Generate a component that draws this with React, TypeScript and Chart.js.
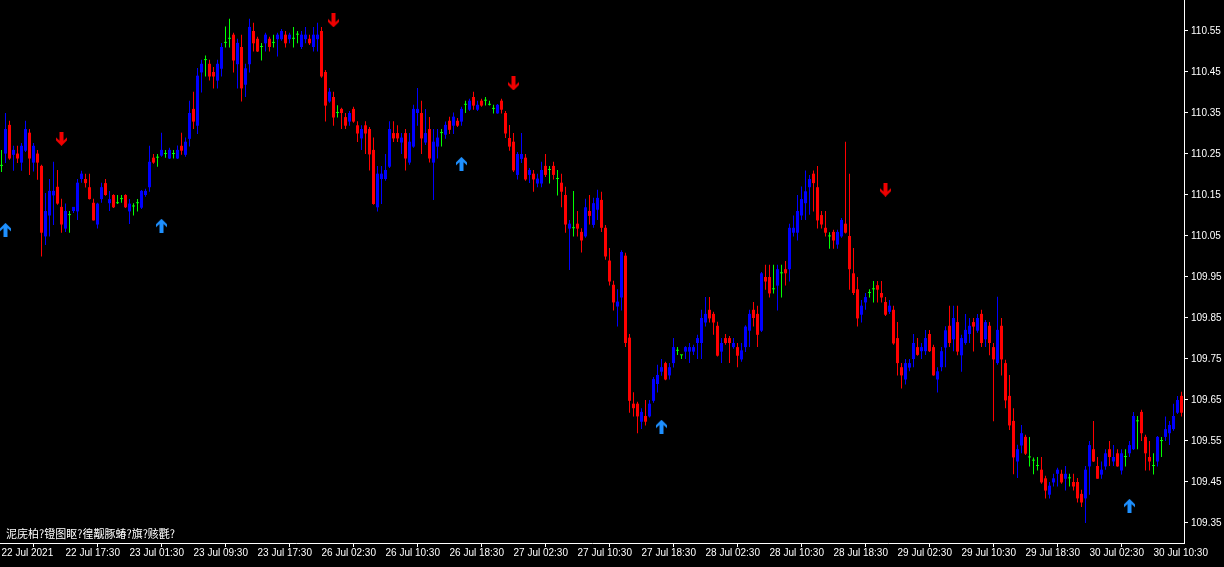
import React, { useEffect, useRef } from "react";
import { Chart, registerables } from "chart.js";

Chart.register(...registerables);

// ---- Candle data (USDJPY M30, 22 Jul 2021 - 30 Jul 2021), one entry per bar ----
const openP = [
  110.221,110.251,110.321,110.248,110.251,110.229,110.258,110.302,110.229,110.251,
  110.221,110.049,110.100,110.149,110.170,110.121,110.068,110.101,110.111,110.110,
  110.189,110.189,110.169,110.131,110.078,110.140,110.179,110.130,110.150,110.130,
  110.140,110.150,110.110,110.122,110.130,110.119,110.150,110.169,110.241,110.241,
  110.246,110.250,110.239,110.250,110.239,110.270,110.248,110.287,110.360,110.319,
  110.449,110.479,110.470,110.450,110.429,110.458,110.521,110.531,110.541,110.469,
  110.511,110.419,110.469,110.550,110.531,110.511,110.520,110.531,110.521,110.530,
  110.530,110.541,110.530,110.531,110.541,110.511,110.530,110.531,110.511,110.530,
  110.550,110.450,110.378,110.389,110.350,110.360,110.340,110.329,110.360,110.320,
  110.288,110.320,110.311,110.260,110.120,110.189,110.189,110.219,110.301,110.301,
  110.278,110.301,110.229,110.268,110.350,110.350,110.278,110.311,110.229,110.268,
  110.301,110.297,110.331,110.319,110.331,110.329,110.370,110.358,110.389,110.358,
  110.380,110.380,110.370,110.360,110.349,110.380,110.350,110.289,110.280,110.199,
  110.238,110.241,110.199,110.202,110.178,110.178,110.221,110.211,110.221,110.189,
  110.180,110.150,110.068,110.069,110.080,110.060,110.049,110.111,110.077,110.114,
  110.138,110.070,109.990,109.931,109.878,109.900,110.002,109.802,109.641,109.641,
  109.597,109.611,109.610,109.648,109.689,109.719,109.740,109.710,109.740,109.770,
  109.759,109.768,109.768,109.768,109.789,109.789,109.839,109.870,109.860,109.831,
  109.768,109.801,109.801,109.779,109.779,109.749,109.779,109.819,109.870,109.860,
  109.819,109.950,109.950,109.920,109.929,109.959,109.969,109.969,110.058,110.058,
  110.100,110.130,110.169,110.202,110.169,110.101,110.070,110.049,110.060,110.029,
  110.049,110.080,110.050,109.959,109.920,109.858,109.888,109.911,109.920,109.930,
  109.911,109.889,109.865,109.870,109.801,109.730,109.700,109.729,109.750,109.779,
  109.769,109.769,109.811,109.779,109.700,109.730,109.778,109.831,109.798,109.840,
  109.759,109.789,109.811,109.840,109.819,109.860,109.798,109.831,109.779,109.740,
  109.831,109.740,109.660,109.599,109.500,109.539,109.560,109.510,109.502,109.489,
  109.480,109.459,109.419,109.449,109.470,109.470,109.458,109.459,109.450,109.450,
  109.421,109.410,109.488,109.530,109.489,109.468,109.488,109.530,109.500,109.520,
  109.478,109.511,109.520,109.530,109.598,109.621,109.560,109.511,109.489,109.500,
  109.550,109.560,109.569,109.579,109.619,109.660,
];

const highP = [
  110.260,110.350,110.331,110.270,110.270,110.277,110.331,110.311,110.277,110.260,
  110.224,110.155,110.189,110.231,110.211,110.141,110.129,110.111,110.121,110.189,
  110.209,110.202,110.202,110.141,110.131,110.180,110.189,110.160,110.152,110.150,
  110.150,110.152,110.140,110.130,110.140,110.162,110.165,110.270,110.250,110.250,
  110.302,110.260,110.265,110.260,110.271,110.302,110.290,110.380,110.402,110.460,
  110.480,110.490,110.480,110.462,110.480,110.521,110.561,110.580,110.546,110.531,
  110.541,110.470,110.580,110.570,110.536,110.521,110.546,110.536,110.541,110.546,
  110.555,110.550,110.546,110.560,110.550,110.550,110.560,110.541,110.560,110.570,
  110.560,110.455,110.411,110.402,110.369,110.363,110.350,110.355,110.365,110.330,
  110.320,110.330,110.316,110.290,110.221,110.221,110.250,110.330,110.330,110.320,
  110.301,110.311,110.301,110.370,110.411,110.380,110.360,110.340,110.311,110.311,
  110.311,110.329,110.341,110.351,110.338,110.365,110.380,110.385,110.402,110.380,
  110.385,110.389,110.380,110.370,110.372,110.385,110.355,110.321,110.301,110.255,
  110.301,110.250,110.216,110.211,110.202,110.231,110.250,110.221,110.231,110.211,
  110.202,110.170,110.089,110.160,110.111,110.069,110.141,110.150,110.143,110.163,
  110.158,110.077,110.021,109.941,109.920,110.015,110.009,109.811,109.669,109.646,
  109.630,109.650,109.650,109.706,109.736,109.750,109.743,109.740,109.801,109.779,
  109.760,109.781,109.789,109.785,109.809,109.870,109.901,109.901,109.865,109.841,
  109.801,109.811,109.806,109.801,109.789,109.789,109.832,109.870,109.889,109.880,
  109.962,109.980,109.980,109.980,109.980,109.980,109.989,110.080,110.100,110.150,
  110.171,110.210,110.199,110.210,110.221,110.111,110.111,110.059,110.065,110.065,
  110.094,110.280,110.202,110.021,109.950,109.894,109.911,109.920,109.940,109.940,
  109.940,109.901,109.894,109.880,109.840,109.740,109.750,109.750,109.811,109.801,
  109.789,109.821,109.821,109.785,109.730,109.779,109.830,109.880,109.880,109.880,
  109.809,109.860,109.850,109.850,109.860,109.870,109.845,109.840,109.789,109.902,
  109.850,109.748,109.711,109.630,109.541,109.589,109.565,109.560,109.510,109.511,
  109.511,109.465,109.450,109.470,109.485,109.480,109.489,109.470,109.470,109.460,
  109.431,109.489,109.550,109.599,109.511,109.500,109.530,109.550,109.540,109.530,
  109.530,109.530,109.550,109.621,109.611,109.626,109.565,109.550,109.520,109.562,
  109.560,109.610,109.599,109.641,109.660,109.670,
];

const lowP = [
  110.206,110.228,110.236,110.209,110.228,110.209,110.255,110.199,110.207,110.187,
  110.000,110.028,110.049,110.077,110.126,110.058,110.060,110.058,110.106,110.089,
  110.180,110.168,110.139,110.088,110.068,110.131,110.148,110.111,110.118,110.128,
  110.131,110.118,110.079,110.100,110.110,110.116,110.146,110.158,110.226,110.219,
  110.243,110.241,110.238,110.239,110.238,110.248,110.243,110.268,110.311,110.299,
  110.400,110.439,110.429,110.410,110.410,110.439,110.510,110.510,110.449,110.410,
  110.378,110.389,110.449,110.500,110.499,110.478,110.500,110.500,110.510,110.488,
  110.526,110.510,110.520,110.510,110.520,110.506,110.520,110.516,110.500,110.500,
  110.436,110.329,110.375,110.319,110.339,110.311,110.311,110.319,110.326,110.279,
  110.260,110.250,110.210,110.126,110.110,110.128,110.185,110.216,110.279,110.279,
  110.250,110.210,110.224,110.265,110.319,110.250,110.272,110.229,110.138,110.239,
  110.268,110.287,110.299,110.299,110.316,110.319,110.350,110.355,110.358,110.355,
  110.365,110.368,110.368,110.349,110.348,110.349,110.289,110.258,110.206,110.188,
  110.228,110.185,110.179,110.158,110.169,110.169,110.194,110.178,110.188,110.149,
  110.120,110.058,109.967,110.049,110.049,110.010,110.046,110.078,110.070,110.089,
  110.060,109.992,109.929,109.868,109.829,109.868,109.779,109.619,109.610,109.569,
  109.579,109.588,109.607,109.643,109.668,109.709,109.698,109.700,109.729,109.760,
  109.750,109.750,109.740,109.760,109.750,109.750,109.829,109.839,109.809,109.756,
  109.740,109.785,109.740,109.775,109.730,109.743,109.767,109.779,109.829,109.779,
  109.816,109.919,109.900,109.910,109.868,109.900,109.929,109.939,110.049,110.039,
  110.089,110.089,110.102,110.110,110.068,110.068,110.049,110.019,110.019,110.019,
  110.046,110.056,109.919,109.906,109.829,109.839,109.870,109.900,109.888,109.888,
  109.888,109.855,109.860,109.785,109.710,109.678,109.688,109.720,109.730,109.758,
  109.750,109.760,109.767,109.709,109.668,109.720,109.730,109.779,109.769,109.759,
  109.719,109.785,109.789,109.768,109.814,109.779,109.779,109.759,109.598,109.736,
  109.710,109.630,109.577,109.469,109.460,109.520,109.516,109.488,109.469,109.478,
  109.446,109.410,109.410,109.439,109.439,109.446,109.429,109.439,109.429,109.400,
  109.389,109.350,109.419,109.499,109.458,109.458,109.480,109.489,109.489,109.487,
  109.468,109.488,109.511,109.528,109.530,109.550,109.478,109.478,109.468,109.488,
  109.511,109.550,109.540,109.575,109.616,109.610,
];

const closeP = [
  110.221,110.311,110.239,110.260,110.239,110.270,110.311,110.239,110.270,110.229,
  110.058,110.111,110.160,110.160,110.129,110.078,110.111,110.101,110.121,110.180,
  110.202,110.179,110.140,110.088,110.129,110.169,110.150,110.140,110.120,110.130,
  110.140,110.120,110.129,110.122,110.130,110.160,110.160,110.231,110.229,110.241,
  110.260,110.250,110.260,110.250,110.260,110.258,110.280,110.350,110.329,110.441,
  110.470,110.479,110.439,110.439,110.470,110.511,110.521,110.531,110.478,110.521,
  110.410,110.459,110.560,110.520,110.500,110.511,110.541,110.511,110.521,110.541,
  110.550,110.520,110.541,110.531,110.541,110.541,110.541,110.520,110.541,110.541,
  110.439,110.368,110.402,110.339,110.350,110.350,110.319,110.350,110.329,110.300,
  110.311,110.300,110.249,110.128,110.202,110.202,110.211,110.311,110.288,110.288,
  110.290,110.239,110.280,110.360,110.360,110.288,110.301,110.239,110.280,110.290,
  110.301,110.321,110.309,110.341,110.319,110.360,110.370,110.380,110.368,110.370,
  110.368,110.380,110.370,110.360,110.370,110.358,110.300,110.268,110.210,110.250,
  110.250,110.188,110.211,110.188,110.190,110.211,110.199,110.211,110.199,110.189,
  110.158,110.078,110.080,110.069,110.068,110.039,110.120,110.099,110.130,110.143,
  110.070,110.000,109.939,109.888,109.890,110.011,109.789,109.648,109.630,109.610,
  109.621,109.597,109.641,109.701,109.711,109.730,109.700,109.730,109.779,109.770,
  109.759,109.779,109.779,109.779,109.801,109.850,109.860,109.849,109.839,109.758,
  109.789,109.789,109.789,109.789,109.758,109.771,109.829,109.860,109.850,109.809,
  109.959,109.939,109.910,109.920,109.969,109.959,109.959,110.070,110.070,110.111,
  110.140,110.159,110.189,110.179,110.088,110.078,110.058,110.049,110.039,110.060,
  110.089,110.058,109.969,109.911,109.849,109.880,109.901,109.911,109.920,109.919,
  109.900,109.858,109.880,109.788,109.740,109.710,109.740,109.740,109.789,109.760,
  109.779,109.801,109.769,109.710,109.720,109.769,109.820,109.789,109.850,109.768,
  109.801,109.821,109.831,109.829,109.850,109.789,109.840,109.789,109.749,109.821,
  109.749,109.649,109.588,109.510,109.530,109.569,109.519,109.510,109.502,109.489,
  109.449,109.429,109.441,109.459,109.480,109.449,109.470,109.459,109.439,109.410,
  109.400,109.480,109.540,109.500,109.458,109.480,109.520,109.511,109.511,109.488,
  109.520,109.511,109.540,109.611,109.598,109.569,109.520,109.500,109.489,109.560,
  109.550,109.579,109.589,109.611,109.650,109.619,
];

// ---- Axis ticks ----
const xTickBars = [0, 16, 32, 48, 64, 80, 96, 112, 128, 144, 160, 176, 192, 208, 224, 240, 256, 272, 288];
const xTickLabels = [
  "22 Jul 2021", "22 Jul 17:30", "23 Jul 01:30", "23 Jul 09:30", "23 Jul 17:30",
  "26 Jul 02:30", "26 Jul 10:30", "26 Jul 18:30", "27 Jul 02:30", "27 Jul 10:30",
  "27 Jul 18:30", "28 Jul 02:30", "28 Jul 10:30", "28 Jul 18:30", "29 Jul 02:30",
  "29 Jul 10:30", "29 Jul 18:30", "30 Jul 02:30", "30 Jul 10:30",
];
const yTickValues = [109.35, 109.45, 109.55, 109.65, 109.75, 109.85, 109.95, 110.05, 110.15, 110.25, 110.35, 110.45, 110.55];

// ---- Signal arrows ----
const upArrowBars = [1, 40, 115, 165, 282];
const upArrowPrices = [110.065, 110.075, 110.226, 109.585, 109.392];
const downArrowBars = [15, 83, 128, 221];
const downArrowPrices = [110.287, 110.576, 110.422, 110.163];

const footerText = "泥庑柏?镫图眍?徨觏豚蝽?旗?赅氍?";

const BULL = "#0000FF";
const BEAR = "#FF0000";
const DOJI = "#00FF00";
const UP_ARROW = "#1E90FF";
const DOWN_ARROW = "#F00000";

function makeArrow(color: string, up: boolean): HTMLCanvasElement {
  const c = document.createElement("canvas");
  c.width = 11;
  c.height = 14;
  const g = c.getContext("2d")!;
  const pts: [number, number][] = [
    [5.5, 0], [11, 5.5], [11, 8.5], [7.5, 5.2], [7.5, 14], [3.5, 14], [3.5, 5.2], [0, 8.5], [0, 5.5],
  ];
  g.fillStyle = color;
  g.beginPath();
  pts.forEach(([px, py], k) => {
    const yy = up ? py : 14 - py;
    if (k === 0) g.moveTo(px, yy);
    else g.lineTo(px, yy);
  });
  g.closePath();
  g.fill();
  return c;
}

export default function App() {
  const ref = useRef<HTMLCanvasElement>(null);

  useEffect(() => {
    document.body.style.margin = "0";
    document.body.style.background = "#000";
    if (!ref.current) return;

    const colors = openP.map((o, i) => (closeP[i] > o ? BULL : closeP[i] < o ? BEAR : DOJI));
    const wickData = openP.map((_, i) => ({ x: i, y: [lowP[i], highP[i]] }));
    const bodyData = openP.map((o, i) => ({ x: i, y: [Math.min(o, closeP[i]), Math.max(o, closeP[i])] }));
    const upData = upArrowBars.map((b, k) => ({ x: b, y: upArrowPrices[k] }));
    const downData = downArrowBars.map((b, k) => ({ x: b, y: downArrowPrices[k] }));

    const footerPlugin = {
      id: "footerText",
      afterDraw(chart: any) {
        const ctx = chart.ctx;
        ctx.save();
        ctx.fillStyle = "#FFFFFF";
        ctx.font = '11px "Noto Sans CJK SC"';
        ctx.textBaseline = "alphabetic";
        ctx.textAlign = "left";
        ctx.fillText(footerText, 6, 538);
        ctx.restore();
      },
    };

    const axisFont = { family: '"Liberation Sans", Arial, sans-serif', size: 10 };

    const chart = new Chart(ref.current, {
      type: "bar",
      data: {
        datasets: [
          {
            type: "scatter",
            data: upData,
            pointStyle: makeArrow(UP_ARROW, true),
            pointRadius: 6,
            order: 0,
          } as any,
          {
            type: "scatter",
            data: downData,
            pointStyle: makeArrow(DOWN_ARROW, false),
            pointRadius: 6,
            order: 0,
          } as any,
          {
            type: "bar",
            data: bodyData,
            backgroundColor: colors,
            barThickness: 3,
            minBarLength: 1,
            grouped: false,
            inflateAmount: 0,
            borderWidth: 0,
            order: 1,
          } as any,
          {
            type: "bar",
            data: wickData,
            backgroundColor: colors,
            barThickness: 1,
            grouped: false,
            inflateAmount: 0,
            borderWidth: 0,
            order: 2,
          } as any,
        ],
      },
      options: {
        responsive: false,
        animation: false,
        devicePixelRatio: 1,
        layout: { padding: 0, autoPadding: false },
        events: [],
        plugins: { legend: { display: false }, tooltip: { enabled: false } },
        scales: {
          x: {
            type: "linear",
            position: "bottom",
            min: -0.375,
            max: 295.625,
            offset: false,
            afterBuildTicks: (s: any) => {
              s.ticks = xTickBars.map((v) => ({ value: v }));
            },
            afterFit: (s: any) => {
              s.height = 24;
              s.paddingLeft = 0;
              s.paddingRight = 0;
            },
            grid: { display: true, drawOnChartArea: false, drawTicks: true, tickLength: 4, color: "#FFFFFF" },
            border: { display: true, color: "#FFFFFF", width: 1 },
            ticks: {
              autoSkip: false,
              maxRotation: 0,
              minRotation: 0,
              align: "start",
              padding: 0,
              color: "#FFFFFF",
              font: axisFont,
              callback: (_v: any, idx: number) => xTickLabels[idx],
            },
          },
          y: {
            type: "linear",
            position: "right",
            min: 109.3012,
            max: 110.6256,
            beginAtZero: false,
            afterBuildTicks: (s: any) => {
              s.ticks = yTickValues.map((v) => ({ value: v }));
            },
            afterFit: (s: any) => {
              s.width = 40;
              s.paddingTop = 0;
              s.paddingBottom = 0;
            },
            grid: { display: true, drawOnChartArea: false, drawTicks: true, tickLength: 4, color: "#FFFFFF" },
            border: { display: true, color: "#FFFFFF", width: 1 },
            ticks: {
              autoSkip: false,
              padding: 3,
              color: "#FFFFFF",
              font: axisFont,
              callback: (v: any) => Number(v).toFixed(2),
            },
          },
        },
      } as any,
      plugins: [footerPlugin],
    });

    return () => chart.destroy();
  }, []);

  return (
    <canvas
      ref={ref}
      width={1224}
      height={567}
      style={{ display: "block", width: 1224, height: 567, background: "#000" }}
    />
  );
}
